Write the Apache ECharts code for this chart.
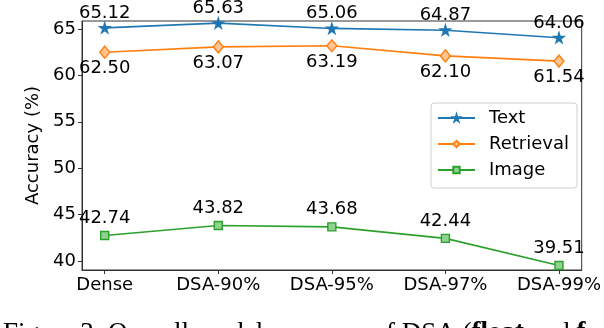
<!DOCTYPE html>
<html>
<head>
<meta charset="utf-8">
<script src="https://cdn.jsdelivr.net/npm/echarts@6/dist/echarts.min.js"></script>
<style>
  html, body { margin: 0; padding: 0; background: #fff; }
  #chart { width: 604px; height: 328px; }
</style>
</head>
<body>
<div id="chart"></div>
<script>
// categories and accuracies
const categories = ['Dense', 'DSA-90%', 'DSA-95%', 'DSA-97%', 'DSA-99%']
const textAcc = [65.12, 65.63, 65.06, 64.87, 64.06]
const retrievalAcc = [62.50, 63.07, 63.19, 62.10, 61.54]
const imageAcc = [42.74, 43.82, 43.68, 42.44, 39.51]
const yTicks = [40, 45, 50, 55, 60, 65]

const FONT = 'DejaVu Sans'
const FS = 18
const STAR = 'path://M50,0 L61,35 L98,35 L68,57 L79,91 L50,70 L21,91 L32,57 L2,35 L39,35 Z'

const toPoints = arr => arr.map((v, i) => [i, v])

const mkSeries = (name, values, color, symbol, size, fill, labelPos, labelDist) => ({
  name,
  type: 'line',
  data: toPoints(values),
  symbol,
  symbolSize: size,
  showAllSymbol: true,
  lineStyle: { width: 1.6, color },
  itemStyle: { color: fill, borderColor: color, borderWidth: 1.4 },
  label: {
    show: true,
    position: labelPos,
    distance: labelDist,
    formatter: p => p.value[1].toFixed(2),
    color: '#000',
    fontFamily: FONT,
    fontSize: FS
  },
  emphasis: { disabled: true },
  z: 3
})

const chart = echarts.init(document.getElementById('chart'))

chart.setOption({
  animation: false,
  backgroundColor: '#fff',
  textStyle: { fontFamily: FONT },
  grid: {
    left: 82, right: 20, top: 21, bottom: 58,
    show: true, borderColor: '#333', borderWidth: 1
  },
  xAxis: {
    type: 'value',
    min: -0.2,
    max: 4.2,
    splitLine: { show: false },
    axisLine: { show: true, onZero: false, lineStyle: { color: '#333', width: 1 } },
    axisTick: { show: true, length: 4, lineStyle: { color: '#333' }, customValues: [0, 1, 2, 3, 4] },
    axisLabel: {
      customValues: [0, 1, 2, 3, 4],
      formatter: v => categories[v] || '',
      color: '#000', fontFamily: FONT, fontSize: FS, margin: 6
    }
  },
  yAxis: {
    type: 'value',
    min: 39.03,
    max: 65.86,
    name: 'Accuracy (%)',
    nameLocation: 'middle',
    nameGap: 32,
    nameTextStyle: { color: '#000', fontFamily: FONT, fontSize: FS },
    splitLine: { show: false },
    axisLine: { show: true, onZero: false, lineStyle: { color: '#333', width: 1 } },
    axisTick: { show: true, length: 4, lineStyle: { color: '#333' }, customValues: yTicks },
    axisLabel: {
      customValues: yTicks,
      color: '#000', fontFamily: FONT, fontSize: FS, margin: 6
    }
  },
  legend: {
    orient: 'vertical',
    left: 431,
    top: 103,
    padding: [5, 8, 8, 6],
    backgroundColor: '#fff',
    borderColor: '#d0d0d0',
    borderWidth: 1,
    borderRadius: 3,
    itemWidth: 37,
    itemHeight: 8,
    itemGap: 6,
    textStyle: { color: '#000', fontFamily: FONT, fontSize: FS, lineHeight: 20, padding: [0, 0, 0, 9] },
    data: ['Text', 'Retrieval', 'Image']
  },
  series: [
    mkSeries('Text', textAcc, '#1f77b4', STAR, 10, '#1f77b4', 'top', 0),
    mkSeries('Retrieval', retrievalAcc, '#ff7f0e', 'diamond', [10, 12], '#ffc48f', 'bottom', 0.5),
    mkSeries('Image', imageAcc, '#2ca02c', 'rect', 8, '#8fd18f', 'top', 3.5)
  ],
  // caption line under the figure, cut off by the crop
  graphic: [{
    type: 'text',
    left: 3,
    top: 320,
    style: {
      text: '{n|Figure 3: Overall model accuracy of DSA (}{b|float}{n| and }{b|f}',
      rich: {
        n: { fontFamily: 'Liberation Serif', fontSize: 27, fill: '#000' },
        b: { fontFamily: 'Liberation Serif', fontSize: 27, fontWeight: 'bold', fill: '#000' }
      }
    }
  }]
})
</script>
</body>
</html>
